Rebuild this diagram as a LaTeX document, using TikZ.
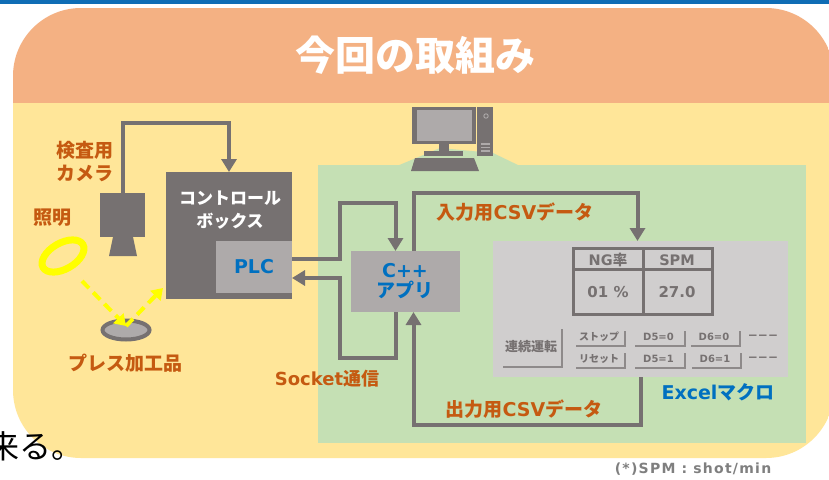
\documentclass[tikz,border=0pt]{standalone}
\usepackage{fontspec}
\setmainfont{Noto Sans CJK JP}
\newfontfamily\ltn{DejaVu Sans}
\newfontfamily\ltnwide[LetterSpace=9]{DejaVu Sans}
\usetikzlibrary{arrows.meta,calc}

\definecolor{ruleblue}{HTML}{0F6DB5}
\definecolor{band}{HTML}{F4B183}
\definecolor{sand}{HTML}{FFE699}
\definecolor{leaf}{HTML}{C5E0B4}
\definecolor{dark}{HTML}{767171}
\definecolor{mid}{HTML}{AEAAAA}
\definecolor{panel}{HTML}{D0CECE}
\definecolor{shade}{HTML}{8E8A8A}
\definecolor{tangerine}{HTML}{C55A11}
\definecolor{azure}{HTML}{0070C0}
\definecolor{lamp}{HTML}{FFFF00}
\definecolor{note}{HTML}{7F7F7F}

\newcommand\fs[1]{\fontsize{#1}{#1}\selectfont}

\begin{document}
\begin{tikzpicture}[x=1pt,y=-1pt,
  lbl/.style={text=tangerine, font=\bfseries\fs{19}, inner sep=0pt, align=center},
  bluelbl/.style={text=azure, font=\bfseries\fs{19}, inner sep=0pt, align=center},
  block/.style={anchor=north west, inner sep=0pt, outer sep=0pt},
  link/.style={draw=dark, line width=4pt, -{Triangle[length=13pt,width=15pt]}},
  beam/.style={draw=lamp, line width=4pt, dash pattern=on 10pt off 6pt,
               -{Triangle[length=11pt,width=14pt]}},
  cell/.style={text=dark, font=\bfseries\fs{14.5}, inner sep=0pt},
  btn/.style={fill=panel, inner sep=0pt, text=dark, font=\bfseries\fs{10},
              preaction={fill=shade, transform canvas={xshift=1.8pt, yshift=-1.8pt}}},
]
\useasboundingbox (0,0) rectangle (829,479);
\fill[white] (0,0) rectangle (829,479);

% top rule
\fill[ruleblue] (0,0) rectangle (829,3.5);

% rounded board: heading band and body
\begin{scope}
  \clip[rounded corners=68pt] (13,8) rectangle (834,458);
  \fill[band] (0,0) rectangle (840,103);
  \fill[sand] (0,103) rectangle (840,470);
\end{scope}
\node[text=white, font=\bfseries\fs{40}, inner sep=0pt] (title) at (415,55) {今回の取組み};

% PC area
\fill[leaf] (318,165) rectangle (806,443);
\fill[leaf] (397,166) -- (440,148) -- (493,153) -- (520,166) -- cycle;

% desktop computer
\fill[dark] (412,107) rectangle (476,144);
\fill[mid] (417,110) rectangle (472,141);
\fill[dark] (439,144) rectangle (449,152);
\fill[dark] (424,151) rectangle (463,156);
\fill[dark] (415,158) -- (474,158) -- (479,171) -- (411,171) -- cycle;
\fill[dark] (477,107) rectangle (493,156);
\draw[mid, line width=0.9pt] (486,116) circle (2.2pt);
\foreach \yy in {144,147.5,151} \draw[mid, line width=1.2pt] (481,\yy) -- (490,\yy);

% control box with PLC
\node[block, fill=dark, minimum width=126pt, minimum height=127pt] (ctrl) at (166,172) {};
\node[text=white, font=\bfseries\fs{17}, inner sep=0pt, align=center] (ctrltext) at (230,210)
  {コントロール\\[6pt]ボックス};
\node[block, fill=mid, minimum width=76pt, minimum height=52pt] (plc) at (216,241) {};
\node[bluelbl, font=\ltn\bfseries\fs{19}] (plctext) at (plc.center) {PLC};

% inspection camera
\node[block, fill=dark, minimum width=45pt, minimum height=44pt] (cam) at (100,193) {};
\fill[dark] (113,237) -- (133,237) -- (137,256) -- (109,256) -- cycle;
\node[lbl] (camtext) at (85,162) {検査用\\[4pt]カメラ};

% light ring
\node[lbl] (lighttext) at (52,218) {照明};
\draw[lamp, line width=7pt, rotate around={30:(63,256)}] (63,256) ellipse [x radius=23pt, y radius=13pt];
\coordinate (ringlow) at (82,281);

% pressed part
\coordinate (prod) at (126,330);
\draw[dark, fill=mid, line width=4pt] (prod) ellipse [x radius=23.5pt, y radius=9.5pt];
\node[lbl] (prodtext) at (125,363) {プレス加工品};

% C++ application
\node[block, fill=mid, minimum width=109pt, minimum height=61pt] (app) at (351,251) {};
\node[bluelbl] (apptext) at (405,281) {{\ltn C++}\\[1pt]アプリ};

% Excel sheet
\node[block, fill=panel, minimum width=295pt, minimum height=136pt] (excel) at (493,241) {};
\draw[dark, line width=3pt] (573,248) rectangle (712,314);
\draw[dark, line width=3pt] (643,248) -- (643,314);
\draw[dark, line width=3pt] (573,269) -- (712,269);
\node[cell] (hng) at (608,260) {{\ltn NG}率};
\node[cell, font=\ltn\bfseries\fs{14.5}] (hspm) at (677,260) {SPM};
\node[cell, font=\ltn\bfseries\fs{15}] (vng) at (608,292) {01 \%};
\node[cell, font=\ltn\bfseries\fs{15}] (vspm) at (677,292) {27.0};

\node[btn, font=\bfseries\fs{13}, minimum width=60pt, minimum height=39pt] (run) at (531,346.5) {連続運転};
\node[btn, minimum width=50pt, minimum height=16pt] (stop) at (599,337) {ストップ};
\node[btn, minimum width=50pt, minimum height=16pt] (reset) at (599,359) {リセット};
\node[btn, font=\ltn\bfseries\fs{10}, minimum width=51pt, minimum height=16pt] (dfa) at (658.5,337) {D5=0};
\node[btn, font=\ltn\bfseries\fs{10}, minimum width=50pt, minimum height=16pt] (dsa) at (714,337) {D6=0};
\node[btn, font=\ltn\bfseries\fs{10}, minimum width=51pt, minimum height=16pt] (dfb) at (658.5,359) {D5=1};
\node[btn, font=\ltn\bfseries\fs{10}, minimum width=50pt, minimum height=16pt] (dsb) at (715,359) {D6=1};
\node[text=dark, font=\ltn\bfseries\fs{12}, inner sep=0pt] (moreA) at (763,337) {−−−};
\node[text=dark, font=\ltn\bfseries\fs{12}, inner sep=0pt] (moreB) at (763,359) {−−−};
\node[bluelbl] (exceltext) at (718,392) {{\ltn Excel}マクロ};

% camera signal to the control box
\draw[link] (cam.north) -- ++(0,-70) -| (ctrl.north);

% socket link between PLC and the application
\draw[link] ([yshift=8pt]plc.east) -| (340,203) -| ([xshift=-10pt]app.north);
\draw[link] ([xshift=-10pt]app.south) |- (340,358) |- ([yshift=-11pt]plc.east);
\node[lbl, font=\bfseries\fs{18}] (socktext) at (327,379) {{\ltn Socket}通信};

% CSV exchange with Excel
\draw[link] ([xshift=8pt]app.north) -- ++(0,-58) -| ([xshift=-3pt]excel.north);
\node[lbl] (intext) at (515,212) {入力用{\ltn CSV}データ};
\draw[link] (excel.south) -- ++(0,48) -| ([xshift=8pt]app.south);
\node[lbl] (outtext) at (524,409) {出力用{\ltn CSV}データ};

% light path
\draw[beam] (ringlow) -- ([yshift=4pt]prod);
\draw[beam] ([yshift=4pt]prod) -- ([shift={(-3pt,11pt)}]ctrl.south west);

% trailing sentence text and footnote
\node[anchor=base west, inner sep=0pt, font=\fs{32}] (tail) at (-13,458) {来る。};
\node[text=note, font=\ltnwide\bfseries\fs{14}, inner sep=0pt] (footnote) at (693,469) {(*)SPM : shot/min};
\end{tikzpicture}
\end{document}
